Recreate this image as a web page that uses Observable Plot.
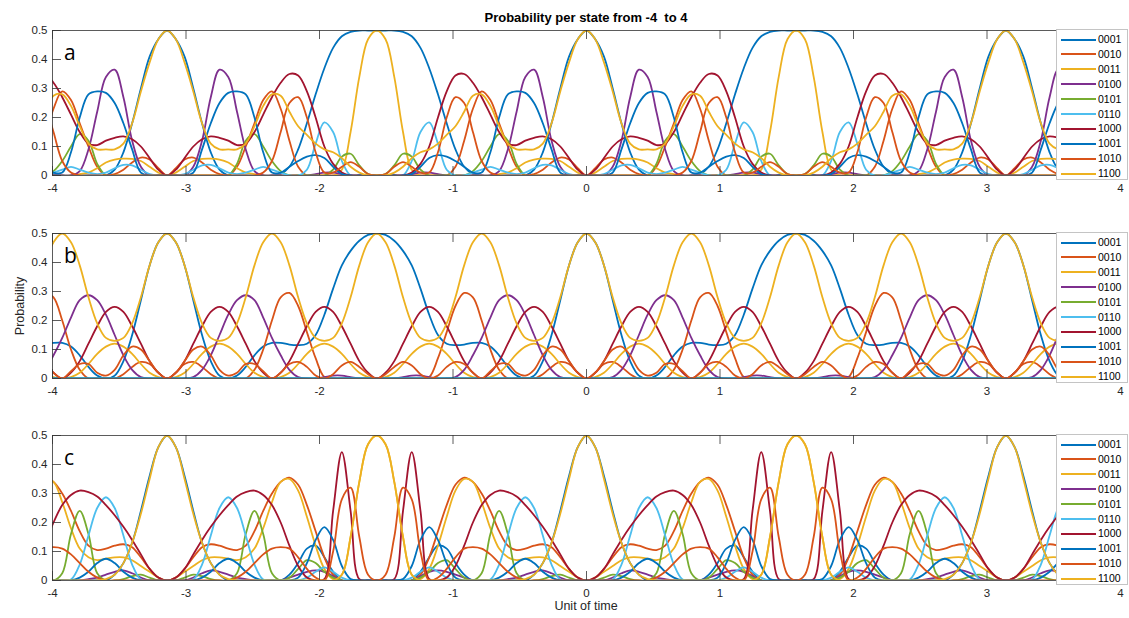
<!DOCTYPE html>
<html>
<head>
<meta charset="utf-8">
<script src="https://cdn.jsdelivr.net/npm/d3@7"></script>
<script src="https://cdn.jsdelivr.net/npm/@observablehq/plot@0.6"></script>
<style>
  html, body { margin: 0; padding: 0; background: #fff; }
  #fig { position: relative; width: 1129px; height: 618px; overflow: hidden;
         font-family: "Liberation Sans", Arial, Helvetica, sans-serif; color: #262626; }
  .abs { position: absolute; }
  .title { left: 52px; width: 1068px; top: 10px; text-align: center; font-weight: bold; font-size: 13px; color: #000; }
  .xlabel { left: 52px; width: 1068px; top: 599px; text-align: center; font-size: 12.5px; }
  .ylabel { left: 20px; top: 306px; font-size: 12.5px; transform: translate(-50%, -50%) rotate(-90deg); white-space: nowrap; }
  .letter { font-family: "Open Sans", "Liberation Sans", sans-serif; font-size: 21px; color: #000; }
  .legend { background: #fff; border: 1px solid #c4c4c4; box-sizing: border-box; width: 72px; height: 151px; }
  .legend .row { position: absolute; left: 0; height: 14.9px; width: 72px; font-size: 10.5px; line-height: 14.9px; color: #000; }
  .legend .sw { position: absolute; left: 4px; top: 6.5px; width: 35px; height: 2px; }
  .legend .lab { position: absolute; left: 41px; top: 0; }
  svg { overflow: visible; }
</style>
</head>
<body>
<div id="fig"></div>
<script>
// Basis states and their line colours (MATLAB default colour order, cycling after seven)
const states = ["0001", "0010", "0011", "0100", "0101", "0110", "1000", "1001", "1010", "1100"];
const colors = ["#0072BD", "#D95319", "#EDB120", "#7E2F8E", "#77AC30", "#4DBEEE", "#A2142F", "#0072BD", "#D95319", "#EDB120"];
const xTicks = [-4, -3, -2, -1, 0, 1, 2, 3, 4];
const yTicks = [0, 0.1, 0.2, 0.3, 0.4, 0.5];

// Probabilities sampled at t = k*pi/48, k = 0..24 (one quarter cycle, 0 to pi/2).
// Every curve is even in t and repeats with period pi, so this quarter fixes the whole record.
// (a)
const a0001 = [0.5,0.47,0.41,0.3,0.18,0.08,0.02,0,0,0,0,0,0,0.005,0.03,0.09,0.18,0.28,0.37,0.44,0.48,0.495,0.5,0.5,0.5];
const a0010 = [0,0.025,0.055,0.062,0.045,0.02,0.005,0,0.03,0.1,0.18,0.26,0.29,0.23,0.12,0.03,0,0,0,0,0,0,0,0,0];
const a0011 = [0,0.01,0.03,0.05,0.057,0.058,0.055,0.045,0.025,0.01,0.005,0,0,0,0,0,0,0,0,0,0.02,0.15,0.34,0.47,0.5];
const a0100 = [0,0,0,0.03,0.12,0.27,0.365,0.34,0.22,0.09,0.015,0,0,0,0,0,0,0.005,0.01,0.01,0.005,0,0,0,0];
const a0101 = [0,0,0,0,0,0,0,0,0.04,0.12,0.143,0.1,0.05,0.015,0,0,0,0,0,0.02,0.065,0.075,0.035,0.005,0];
const a0110 = [0,0,0.005,0.02,0.035,0.037,0.025,0.01,0.005,0.01,0.02,0.03,0.02,0.01,0,0,0.02,0.11,0.183,0.15,0.05,0,0,0,0];
const a1000 = [0,0.02,0.06,0.1,0.125,0.135,0.13,0.12,0.105,0.11,0.15,0.21,0.27,0.32,0.35,0.345,0.29,0.2,0.1,0.04,0.01,0,0,0,0];
const a1001 = [0,0,0,0.01,0.09,0.18,0.25,0.285,0.29,0.28,0.2,0.08,0.01,0.01,0.03,0.05,0.065,0.07,0.06,0.03,0.005,0,0,0,0];
const a1010 = [0,0,0,0,0,0,0,0,0,0,0,0.01,0.05,0.15,0.25,0.27,0.2,0.08,0.01,0.01,0.03,0.046,0.03,0.005,0];
const a1100 = [0.5,0.47,0.39,0.29,0.18,0.11,0.09,0.09,0.09,0.11,0.17,0.24,0.28,0.275,0.22,0.17,0.14,0.11,0.09,0.08,0.06,0.03,0.01,0,0];
// (b)
const b0001 = [0.5,0.47,0.39,0.27,0.15,0.06,0.01,0,0.01,0.04,0.08,0.11,0.123,0.123,0.117,0.115,0.12,0.15,0.22,0.31,0.39,0.44,0.475,0.495,0.5];
const b0010 = [0,0.02,0.05,0.057,0.04,0.015,0,0,0,0,0.03,0.1,0.2,0.28,0.295,0.25,0.16,0.07,0.005,0,0,0,0,0,0];
const b0011 = [0,0.005,0.02,0.05,0.085,0.11,0.12,0.11,0.085,0.05,0.02,0.005,0,0.005,0.02,0.05,0.085,0.11,0.12,0.11,0.085,0.05,0.02,0.005,0];
const b0100 = [0,0,0,0.005,0.03,0.08,0.15,0.22,0.27,0.287,0.27,0.21,0.14,0.08,0.03,0.005,0,0,0.005,0.01,0.01,0.005,0,0,0];
const b0101 = [0,0,0,0,0,0,0,0,0,0,0,0,0,0,0,0,0,0,0,0,0,0,0,0,0];
const b0110 = [0,0,0,0,0,0,0,0,0,0,0,0,0,0,0,0,0,0,0,0,0,0,0,0,0];
const b1000 = [0,0.02,0.06,0.12,0.18,0.23,0.247,0.23,0.18,0.12,0.06,0.02,0,0.02,0.06,0.12,0.18,0.23,0.247,0.23,0.18,0.12,0.06,0.02,0];
const b1001 = [0,0,0,0,0,0,0,0,0,0,0,0,0,0,0,0,0,0,0,0,0,0,0,0,0];
const b1010 = [0,0.02,0.06,0.1,0.11,0.08,0.03,0.01,0.02,0.05,0.05,0.025,0,0.02,0.05,0.057,0.04,0.01,0,0.015,0.045,0.057,0.04,0.015,0];
const b1100 = [0.5,0.47,0.39,0.28,0.19,0.14,0.13,0.14,0.19,0.28,0.39,0.47,0.5,0.47,0.39,0.28,0.19,0.14,0.13,0.14,0.19,0.28,0.39,0.47,0.5];
// (c)
const c0001 = [0.5,0.46,0.36,0.24,0.13,0.06,0.02,0,0,0,0,0,0,0,0.02,0.06,0.11,0.12,0.08,0.03,0,0,0,0,0];
const c0010 = [0,0.01,0.04,0.08,0.115,0.125,0.12,0.11,0.105,0.12,0.17,0.24,0.3,0.34,0.355,0.33,0.26,0.17,0.08,0.02,0,0,0,0,0];
const c0011 = [0,0.01,0.03,0.05,0.07,0.08,0.08,0.075,0.07,0.08,0.11,0.18,0.27,0.34,0.35,0.31,0.22,0.12,0.04,0.005,0.02,0.15,0.34,0.47,0.5];
const c0100 = [0,0,0,0.01,0.025,0.035,0.03,0.02,0.01,0.005,0,0,0,0,0.01,0.02,0.03,0.035,0.03,0.015,0,0,0,0,0];
const c0101 = [0,0,0.01,0.02,0.015,0.005,0,0,0.025,0.16,0.24,0.16,0.025,0,0.01,0.04,0.07,0.06,0.03,0.01,0,0,0,0,0];
const c0110 = [0,0,0,0.003,0.055,0.155,0.25,0.287,0.25,0.155,0.055,0.003,0,0,0,0,0.01,0.03,0.045,0.03,0.01,0,0,0,0];
const c1000 = [0,0.01,0.04,0.09,0.14,0.185,0.225,0.26,0.29,0.305,0.31,0.295,0.26,0.2,0.12,0.05,0.01,0,0.005,0.24,0.443,0.24,0.005,0,0];
const c1001 = [0,0,0,0,0.01,0.03,0.06,0.075,0.06,0.03,0.01,0,0,0,0,0.01,0.06,0.14,0.184,0.14,0.05,0.005,0,0,0];
const c1010 = [0,0,0,0,0,0,0,0,0.01,0.03,0.06,0.09,0.11,0.115,0.11,0.08,0.04,0.01,0,0.1,0.28,0.32,0.15,0.02,0];
const c1100 = [0.5,0.46,0.35,0.23,0.13,0.06,0.02,0.005,0,0,0,0,0,0,0,0,0,0,0,0,0.02,0.15,0.34,0.47,0.5];

const panelSeries = {
  a: [a0001, a0010, a0011, a0100, a0101, a0110, a1000, a1001, a1010, a1100],
  b: [b0001, b0010, b0011, b0100, b0101, b0110, b1000, b1001, b1010, b1100],
  c: [c0001, c0010, c0011, c0100, c0101, c0110, c1000, c1001, c1010, c1100]
};

// Sample index k runs past both ends of [-4, 4]; the frame clips the overhang.
const step = Math.PI / 48;
const ks = d3.range(-62, 63);
const quarterIndex = k => { const m = ((k % 48) + 48) % 48; return m <= 24 ? m : 48 - m; };

function rowsFor(series) {
  const rows = [];
  series.forEach((q, i) => {
    for (const k of ks) rows.push({t: k * step, p: q[quarterIndex(k)], state: states[i]});
  });
  return rows;
}

const fig = document.getElementById("fig");
const FW = 1068, FH = 145, TICK = 9;
const frameTops = {a: 30, b: 233, c: 435};

function addDiv(cls, text, style) {
  const d = document.createElement("div");
  d.className = "abs " + cls;
  if (text != null) d.textContent = text;
  Object.assign(d.style, style || {});
  fig.appendChild(d);
  return d;
}

for (const key of ["a", "b", "c"]) {
  const top = frameTops[key];
  const chart = Plot.plot({
    width: 1129,
    height: 5 + FH + 25,
    marginLeft: 52,
    marginRight: 9,
    marginTop: 5,
    marginBottom: 25,
    style: {background: "transparent", fontSize: "11.5px", fontFamily: "'Liberation Sans', Arial, Helvetica, sans-serif", color: "#262626", overflow: "visible"},
    x: {domain: [-4, 4], label: null},
    y: {domain: [0, 0.5], label: null},
    color: {domain: states, range: colors},
    marks: [
      Plot.line(rowsFor(panelSeries[key]), {x: "t", y: "p", z: "state", stroke: "state", strokeWidth: 1.8, curve: "catmull-rom", clip: true}),
      Plot.frame({stroke: "#333", strokeWidth: 0.8}),
      Plot.tickX(xTicks, {x: d => d, insetTop: FH - TICK, stroke: "#333", strokeWidth: 0.8}),
      Plot.tickX(xTicks, {x: d => d, insetBottom: FH - TICK, stroke: "#333", strokeWidth: 0.8}),
      Plot.tickY(yTicks, {y: d => d, insetRight: FW - TICK, stroke: "#333", strokeWidth: 0.8}),
      Plot.axisX({ticks: xTicks, tickSize: 0, tickPadding: 8, tickFormat: d => String(d), fill: "#262626"}),
      Plot.axisY({ticks: yTicks, tickSize: 0, tickPadding: 5, tickFormat: d => String(d), fill: "#262626"})
    ]
  });
  chart.style.position = "absolute";
  chart.style.left = "0px";
  chart.style.top = (top - 5) + "px";
  fig.appendChild(chart);

  addDiv("letter", key, {left: "64px", top: (top + 8) + "px"});

  const lg = addDiv("legend", null, {left: "1056px", top: (top - 1) + "px"});
  states.forEach((s, i) => {
    const row = document.createElement("div");
    row.className = "row";
    row.style.top = (2 + i * 14.9) + "px";
    const sw = document.createElement("div");
    sw.className = "sw";
    sw.style.background = colors[i];
    const lab = document.createElement("div");
    lab.className = "lab";
    lab.textContent = s;
    row.appendChild(sw);
    row.appendChild(lab);
    lg.appendChild(row);
  });
}

addDiv("title", "Probability per state from -4  to 4", {whiteSpace: "pre"});
addDiv("ylabel", "Probability");
addDiv("xlabel", "Unit of time");
</script>
</body>
</html>
